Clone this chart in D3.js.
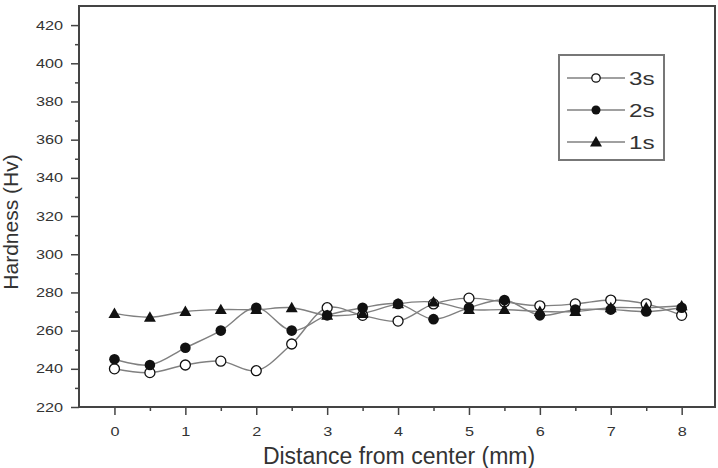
<!DOCTYPE html>
<html>
<head>
<meta charset="utf-8">
<script src="https://cdn.jsdelivr.net/npm/d3@7"></script>
<style>
  body { margin: 0; background: #fff; }
  text { font-family: "Liberation Sans", Arial, sans-serif; fill: #333; }
</style>
</head>
<body>
<div id="chart"></div>
<script>
// distance from center (mm)
const distance = [0, 0.5, 1, 1.5, 2, 2.5, 3, 3.5, 4, 4.5, 5, 5.5, 6, 6.5, 7, 7.5, 8];
const hard3s = [240, 238, 242, 244, 239, 253, 272, 268, 265, 274, 277, 275, 273, 274, 276, 274, 268];
const hard2s = [245, 242, 251, 260, 272, 260, 268, 272, 274, 266, 272, 276, 268, 271, 271, 270, 272];
const hard1s = [269, 267, 270, 271, 271, 272, 268, 269, 274, 275, 271, 271, 270, 270, 272, 272, 273];
const seriesNames = ["3s", "2s", "1s"];
const yTicks = [220, 240, 260, 280, 300, 320, 340, 360, 380, 400, 420];
const xTicks = [0, 1, 2, 3, 4, 5, 6, 7, 8];

const W = 718, H = 468;
const plotL = 79, plotR = 715, plotT = 6, plotB = 407;
const stretch = 1.3; // tick labels look wide in the original

const svg = d3.select("#chart").append("svg")
  .attr("width", W).attr("height", H);

const x = d3.scaleLinear().domain([-0.5, 8.47]).range([plotL, plotR]);
const y = d3.scaleLinear().domain([220, 430]).range([plotB, plotT]);

const axisColor = "#444";

// x axis with minor ticks
const gx = svg.append("g").attr("transform", `translate(0,${plotB})`);
gx.call(d3.axisBottom(x).tickValues(d3.range(-0.5, 8.5, 0.5).filter(v => !xTicks.includes(v) && v > -0.5))
  .tickSize(4).tickFormat(""));
gx.append("g").call(d3.axisBottom(x).tickValues(xTicks).tickSize(8).tickPadding(12).tickFormat(d3.format("d")));
gx.selectAll(".domain").remove();
gx.selectAll("line").attr("stroke", axisColor).attr("stroke-width", 1.5);
gx.selectAll("text").attr("font-size", 12.5).attr("fill", "#333")
  .attr("font-family", "Liberation Sans, Arial, sans-serif")
  .attr("transform", `scale(${stretch},1)`)
  .attr("x", 0);

// y axis with minor ticks
const gy = svg.append("g").attr("transform", `translate(${plotL},0)`);
gy.call(d3.axisLeft(y).tickValues(d3.range(230, 430, 20)).tickSize(4).tickFormat(""));
gy.append("g").call(d3.axisLeft(y).tickValues(yTicks).tickSize(8).tickPadding(8).tickFormat(d3.format("d")));
gy.selectAll(".domain").remove();
gy.selectAll("line").attr("stroke", axisColor).attr("stroke-width", 1.5);
gy.selectAll("text").attr("font-size", 12.5).attr("fill", "#333")
  .attr("font-family", "Liberation Sans, Arial, sans-serif")
  .attr("x", -16 / stretch)
  .attr("transform", `scale(${stretch},1)`);

// frame
svg.append("rect")
  .attr("x", plotL).attr("y", plotT)
  .attr("width", plotR - plotL).attr("height", plotB - plotT)
  .attr("fill", "none").attr("stroke", axisColor).attr("stroke-width", 2);

// axis titles
svg.append("text")
  .attr("x", 399).attr("y", 464)
  .attr("text-anchor", "middle").attr("font-size", 23)
  .text("Distance from center (mm)");
svg.append("text")
  .attr("transform", "translate(18,222) rotate(-90)")
  .attr("text-anchor", "middle").attr("font-size", 21)
  .text("Hardness (Hv)");

// lines
const seriesData = [hard3s, hard2s, hard1s];
const line = d3.line()
  .x((d, i) => x(distance[i]))
  .y(d => y(d))
  .curve(d3.curveCatmullRom.alpha(0.5));

const plot = svg.append("g");
seriesData.forEach(vals => {
  plot.append("path")
    .datum(vals)
    .attr("d", line)
    .attr("fill", "none")
    .attr("stroke", "#808080")
    .attr("stroke-width", 1.4);
});

const tri = d3.symbol().type(d3.symbolTriangle).size(62);

function drawMarker(g, kind, cx, cy, r) {
  r = r || 5.3;
  if (kind === 0) {
    g.append("circle").attr("cx", cx).attr("cy", cy).attr("r", r - 0.3)
      .attr("fill", "#fff").attr("stroke", "#111").attr("stroke-width", 1.3);
  } else if (kind === 1) {
    g.append("circle").attr("cx", cx).attr("cy", cy).attr("r", r)
      .attr("fill", "#111");
  } else {
    g.append("path").attr("d", tri)
      .attr("transform", `translate(${cx},${cy + 1})`)
      .attr("fill", "#111");
  }
}

seriesData.forEach((vals, k) => {
  vals.forEach((v, i) => drawMarker(plot, k, x(distance[i]), y(v)));
});

// legend
const lg = svg.append("g");
lg.append("rect")
  .attr("x", 559).attr("y", 55).attr("width", 105).attr("height", 105)
  .attr("fill", "#fff").attr("stroke", "#777").attr("stroke-width", 2);
seriesNames.forEach((name, k) => {
  const ly = 78 + k * 32;
  lg.append("line").attr("x1", 567).attr("x2", 625).attr("y1", ly).attr("y2", ly)
    .attr("stroke", "#808080").attr("stroke-width", 1.4);
  drawMarker(lg, k, 596, ly, 4.5);
  lg.append("text")
    .attr("transform", `translate(629,${ly + 7}) scale(1.35,1)`)
    .attr("font-size", 18).text(name);
});
</script>
</body>
</html>
